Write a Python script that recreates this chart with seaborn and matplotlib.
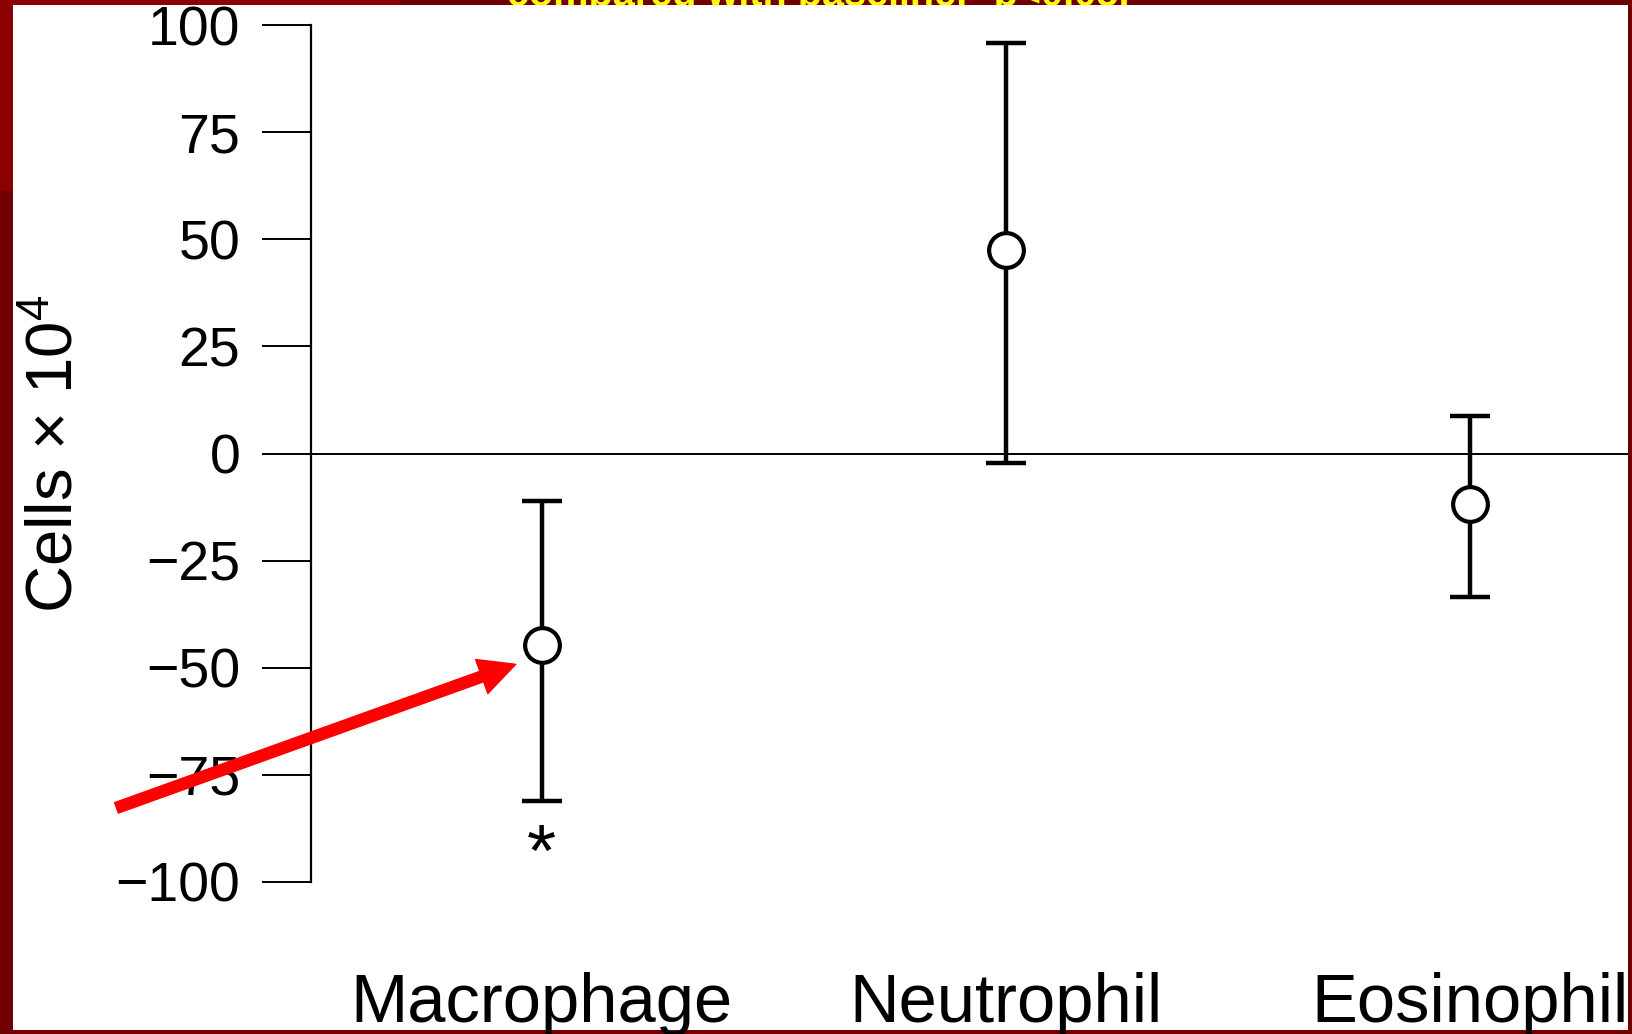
#change in BAL cells compared with baseline

import numpy as np
import matplotlib
matplotlib.use('Agg')
import matplotlib.pyplot as plt
import seaborn as sns
from matplotlib.patches import Rectangle

cell_types = ['Macrophage', 'Neutrophil', 'Eosinophil']
means = [-44.6, 47.4, -11.9]
lower = [-81.1, -2.2, -33.4]
upper = [-11.1, 95.7, 8.8]
y_ticks = [-100, -75, -50, -25, 0, 25, 50, 75, 100]
sig_marks = ['*', '', '']
sig_y = [-94.0, None, None]

sns.set_style('white')
plt.rcParams['font.family'] = ['Liberation Sans', 'DejaVu Sans']
plt.rcParams['mathtext.default'] = 'regular'
plt.rcParams['text.color'] = 'black'
plt.rcParams['axes.labelcolor'] = 'black'
plt.rcParams['xtick.color'] = 'black'
plt.rcParams['ytick.color'] = 'black'

W, H = 1633, 1034
fig = plt.figure(figsize=(W / 100, H / 100), dpi=100)
fig.patch.set_facecolor('#700000')

# slide background: brighter red top-left, white panel over it
fig.patches.append(Rectangle((0, 1 - 191 / H), 400 / W, 191 / H, transform=fig.transFigure,
                             facecolor='#8B0000', edgecolor='none', zorder=-3))
fig.text(818 / W, 1 - 5.5 / H, 'compared with baseline. *p<0.05.', color='#FFFF00',
         fontsize=28.5, fontweight='bold', ha='center', va='baseline', zorder=-2)
fig.patches.append(Rectangle((13 / W, 4 / H), (1628 - 13) / W, (1030 - 5) / H,
                             transform=fig.transFigure, facecolor='white',
                             edgecolor='none', zorder=-1))

ax = fig.add_axes([311 / W, 1 - 882 / H, (1628 - 311) / W, (882 - 25) / H])
ax.patch.set_alpha(0)

err = np.array([np.array(means) - np.array(lower), np.array(upper) - np.array(means)])
ax.errorbar(cell_types, means, yerr=err, fmt='none', ecolor='black', elinewidth=3.2,
            capsize=14.5, capthick=3.2, zorder=2)
sns.scatterplot(x=cell_types, y=means, ax=ax, s=25 ** 2, marker='o', facecolor='white',
                edgecolor='black', linewidth=3, zorder=3, legend=False)
ax.axhline(0, color='black', lw=1.4, zorder=1)

for i, (m, yy) in enumerate(zip(sig_marks, sig_y)):
    if m:
        ax.text(i, yy, m, ha='center', va='center', fontsize=54, color='black')

ax.set_xlim(-0.497, 2.340)
ax.set_ylim(-100, 100)
ax.set_yticks(y_ticks)
ax.set_ylabel('Cells × 10$^4$', fontsize=47)
ax.yaxis.set_label_coords(-0.171, 0.5)
ax.set_xlabel('')

for s in ['top', 'right', 'bottom']:
    ax.spines[s].set_visible(False)
ax.spines['left'].set_linewidth(1.6)
ax.spines['left'].set_color('black')
ax.tick_params(axis='y', direction='out', length=35, width=1.4, pad=16, labelsize=40,
               left=True, color='black')
ax.tick_params(axis='x', length=0, pad=65, labelsize=49.5)

# red arrow pointing at macrophage change
ax.annotate('', xy=(-0.056, -49.2), xytext=(-0.916, -82.7), annotation_clip=False,
            arrowprops=dict(facecolor='#FF0000', edgecolor='#FF0000', width=8,
                            headwidth=26, headlength=26, shrink=0), zorder=5)

fig.savefig('out.png', dpi=100, facecolor=fig.get_facecolor())
